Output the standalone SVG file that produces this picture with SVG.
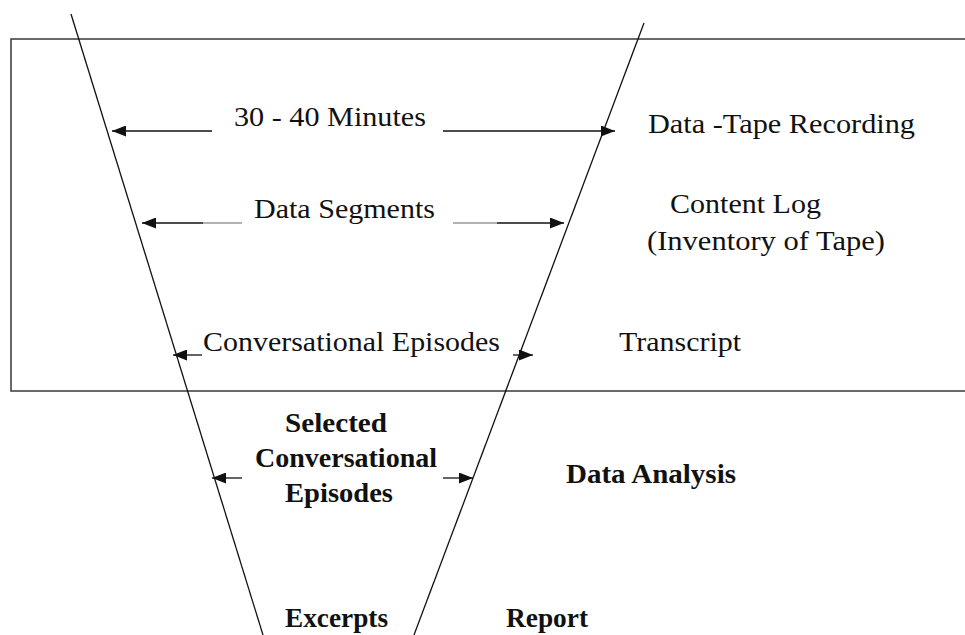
<svg xmlns="http://www.w3.org/2000/svg" width="965" height="635" viewBox="0 0 965 635">
<style>
  text { font-family: "Liberation Serif", "Times New Roman", serif; font-size: 28px; fill: #111; }
  .b { font-weight: bold; }
  .ln { stroke: #111; stroke-width: 1.3; fill: none; }
  .gr { stroke: #999; stroke-width: 1.3; fill: none; }
  .box { stroke: #444; stroke-width: 1.6; fill: none; }
</style>
<defs>
  <marker id="ah" markerUnits="userSpaceOnUse" markerWidth="14" markerHeight="11" refX="14" refY="5.5" orient="auto">
    <path d="M0,0 L14,5.5 L0,11 z" fill="#111"/>
  </marker>
</defs>
<rect width="965" height="635" fill="#fff"/>
<g id="frame">
  <rect class="box" x="11" y="39" width="970" height="352"/>
</g>
<g id="funnel">
  <line class="ln" x1="71" y1="14" x2="263" y2="635"/>
  <line class="ln" x1="644" y1="23" x2="414" y2="635"/>
</g>
<g id="connectors">
  <line class="ln" x1="212" y1="131" x2="112" y2="131" marker-end="url(#ah)"/>
  <line class="ln" x1="443" y1="131" x2="615" y2="131" marker-end="url(#ah)"/>
  <line class="gr" x1="242" y1="223" x2="203" y2="223"/>
  <line class="ln" x1="203" y1="223" x2="142" y2="223" marker-end="url(#ah)"/>
  <line class="gr" x1="453" y1="223" x2="497" y2="223"/>
  <line class="ln" x1="497" y1="223" x2="564" y2="223" marker-end="url(#ah)"/>
  <line class="ln" x1="202" y1="355" x2="173" y2="355" marker-end="url(#ah)"/>
  <line class="ln" x1="513" y1="355" x2="533" y2="355" marker-end="url(#ah)"/>
  <line class="ln" x1="242" y1="478" x2="212" y2="478" marker-end="url(#ah)"/>
  <line class="ln" x1="443" y1="478" x2="473" y2="478" marker-end="url(#ah)"/>
</g>
<g id="minutes"><text x="234" y="126" textLength="192" lengthAdjust="spacingAndGlyphs">30 - 40 Minutes</text></g>
<g id="segments"><text x="254" y="218" textLength="181" lengthAdjust="spacingAndGlyphs">Data Segments</text></g>
<g id="episodes"><text x="203" y="351" textLength="297" lengthAdjust="spacingAndGlyphs">Conversational Episodes</text></g>
<g id="selected">
  <text class="b" x="285" y="432" textLength="102" lengthAdjust="spacingAndGlyphs">Selected</text>
  <text class="b" x="255" y="467" textLength="182" lengthAdjust="spacingAndGlyphs">Conversational</text>
  <text class="b" x="285" y="502" textLength="108" lengthAdjust="spacingAndGlyphs">Episodes</text>
</g>
<g id="excerpts"><text class="b" x="285" y="627" textLength="103" lengthAdjust="spacingAndGlyphs">Excerpts</text></g>
<g id="recording"><text x="648" y="133" textLength="267" lengthAdjust="spacingAndGlyphs">Data -Tape Recording</text></g>
<g id="contentlog">
  <text x="670" y="213" textLength="151" lengthAdjust="spacingAndGlyphs">Content Log</text>
  <text x="647" y="250" textLength="238" lengthAdjust="spacingAndGlyphs">(Inventory of Tape)</text>
</g>
<g id="transcript"><text x="619" y="351" textLength="122" lengthAdjust="spacingAndGlyphs">Transcript</text></g>
<g id="analysis"><text class="b" x="566" y="483" textLength="170" lengthAdjust="spacingAndGlyphs">Data Analysis</text></g>
<g id="report"><text class="b" x="506" y="627" textLength="82" lengthAdjust="spacingAndGlyphs">Report</text></g>
</svg>
